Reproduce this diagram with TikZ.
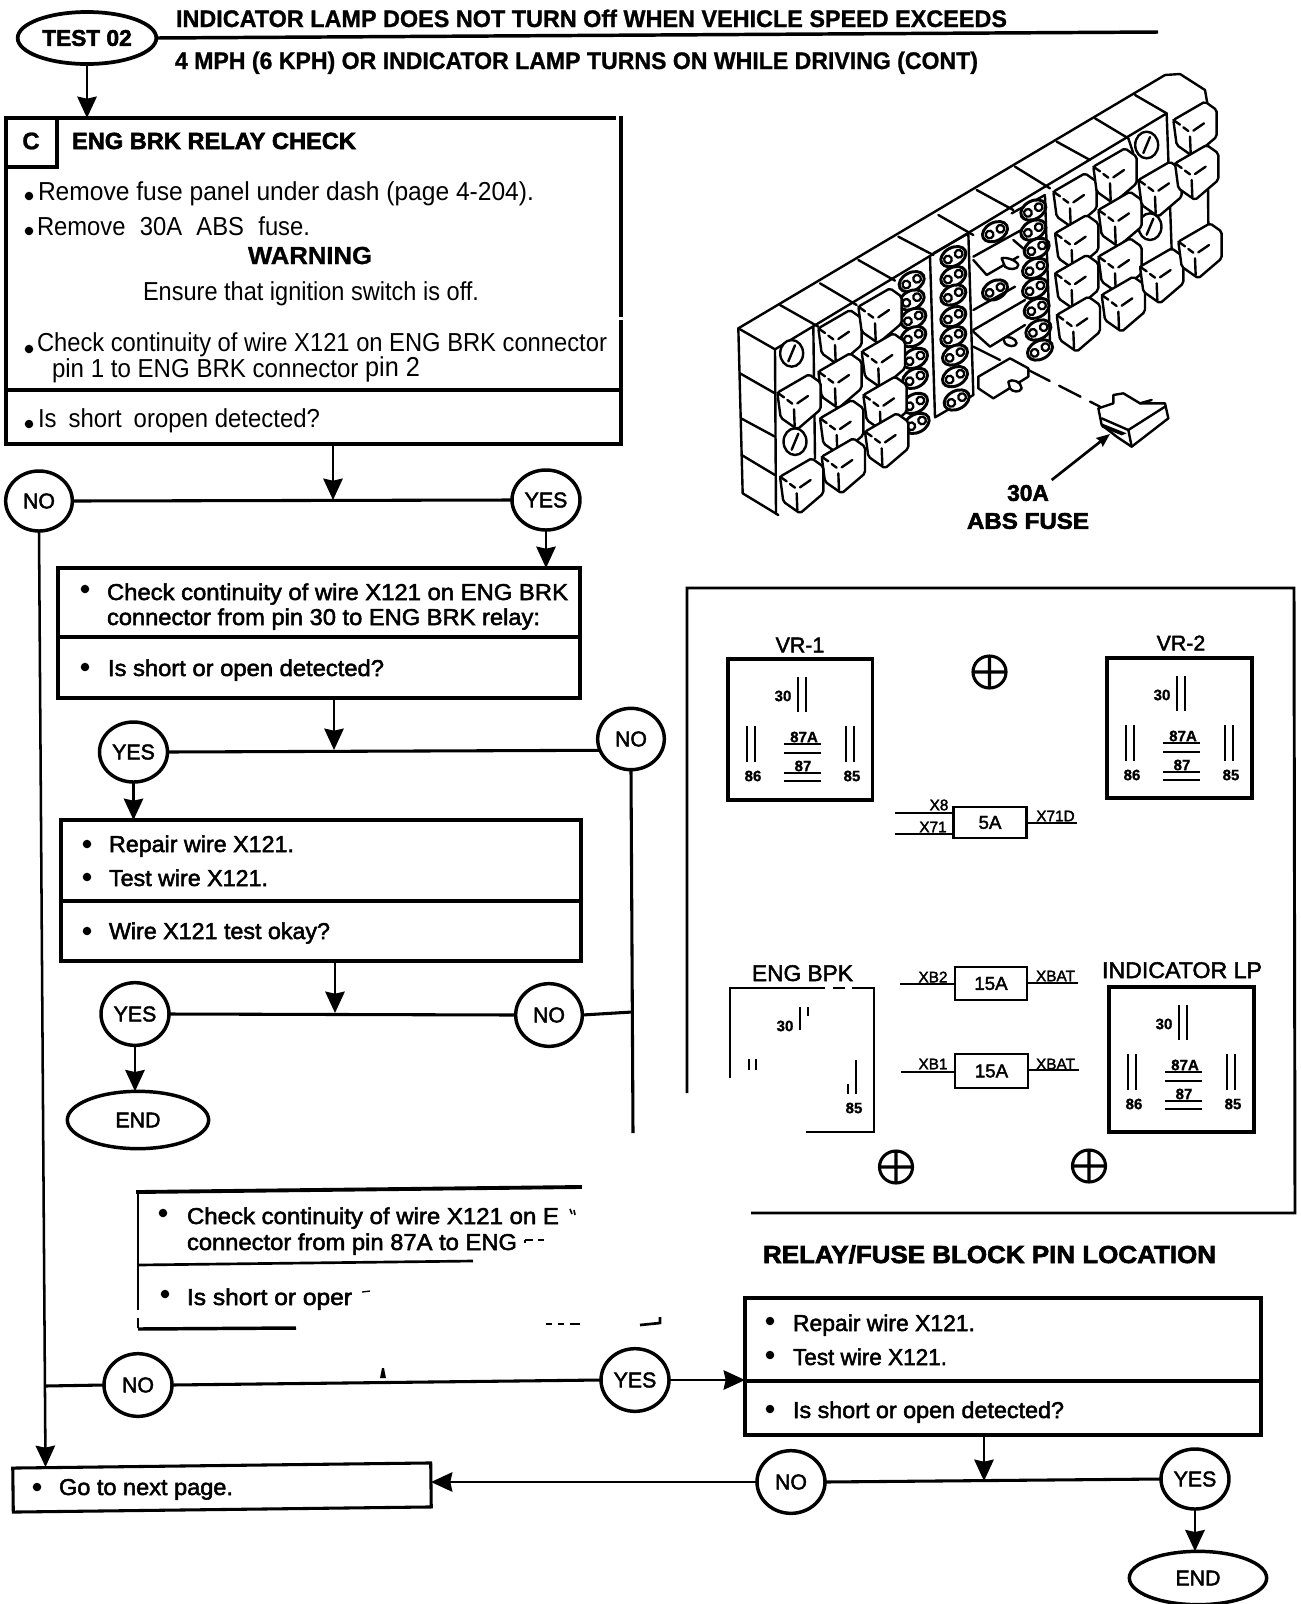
\documentclass[tikz,border=0pt]{standalone}
\usepackage{fontspec}
\setmainfont{Liberation Sans}
\usetikzlibrary{arrows.meta,shapes.geometric}
\newdimen\pxu \pxu=0.75pt
\newfontfamily\hvy[FakeBold=2.2]{Liberation Sans}
\newfontfamily\hvb[FakeBold=2.4]{Liberation Sans Bold}
\newfontfamily\bld[FakeBold=1]{Liberation Sans Bold}
\newcommand{\fA}{\hvy\fontsize{17.2}{20}\selectfont}
\newcommand{\fN}{\fontsize{19.5}{24}\selectfont}
\newcommand{\fT}{\bld\fontsize{18.5}{22}\selectfont}
\newcommand{\fH}{\hvb\fontsize{17.5}{21}\selectfont}
\newcommand{\fD}{\hvy\fontsize{16}{19}\selectfont}
\newcommand{\fP}{\bld\fontsize{11.3}{13}\selectfont}
\newcommand{\fW}{\hvy\fontsize{11.5}{13}\selectfont}
\newcommand{\fF}{\hvy\fontsize{14}{16}\selectfont}
% text fitted to a measured width: name, x, baseline, width, font, text
\newcommand{\tl}[6]{\node[anchor=base west,inner sep=0pt,outer sep=0pt] (#1) at (#2,#3) {\resizebox{#4\pxu}{\height}{#5#6}};}
\newcommand{\rbox}[6][box]{\node[#1,minimum width={(#4-#2)*0.75pt},minimum height={(#5-#3)*0.75pt}] (#6) at ({(#2+#4)/2},{(#3+#5)/2}) {};}
\newcommand{\dotb}[2]{\fill (#1,#2) circle (3.2pt);}
\newcommand{\relay}[5]{% name x y w h
\rbox[box]{#2}{#3}{#2+#4}{#3+#5}{#1}
\begin{scope}[shift={(#2,#3)}]
\node[pinlbl] (#1p30) at (55,37) {30};
\draw[pinline] (70,18)--(70,53) (78,18)--(78,53) (19,67)--(19,103) (27,67)--(27,103) (118,67)--(118,103) (126,67)--(126,103);
\node[pinlbl] (#1p86) at (25,117) {86};
\node[pinlbl] (#1p85) at (124,117) {85};
\node[pinlbl] (#1pa) at (76,78) {87A};
\node[pinlbl] (#1pb) at (75,107) {87};
\draw[pinline] (56,85)--(93,85) (56,94)--(93,94) (56,114)--(93,114) (56,122)--(93,122);
\end{scope}}
\newcommand{\screwmark}[2]{\draw[screw] (#1,#2) ellipse [x radius=12.4pt,y radius=12pt] (#1-16,#2)--(#1+16,#2) (#1,#2-16)--(#1,#2+16);}
\newcommand{\cubeat}[2]{\begin{scope}[shift={(#1,#2)}]
\draw[part,fill=white,rounded corners=1.5pt] (0,0)--(95,-55)--(130,-30)--(130,50)--(60,110)--(10,75)--cycle;
\draw[part] (0,0)--(20,14) (30,22)--(45,33) (60,32)--(92,10) (50,50)--(52,100);
\end{scope}}
\newcommand{\holeat}[2]{\begin{scope}[shift={(#1,#2)},rotate=28]
\draw[line width=2.2pt,fill=white] (0,0) ellipse [x radius=10pt,y radius=6.8pt];
\draw[line width=1.7pt,fill=white] (-4.6pt,0) circle (2.9pt) (4.6pt,0) circle (2.9pt);
\end{scope}}
\newcommand{\dialat}[2]{\draw[part,fill=white] (#1,#2) ellipse [x radius=8.6pt,y radius=10pt];
\draw[part] (#1-10,#2+24)--(#1+10,#2-24);}
\tikzset{
 box/.style={draw,line width=2.3pt,inner sep=0pt,outer sep=0pt,rectangle,fill=white},
 ghost/.style={inner sep=0pt,outer sep=0pt,rectangle},
 dec/.style={draw,ellipse,line width=2.6pt,inner sep=0pt,outer sep=0pt,fill=white,font=\fD},
 conn/.style={line width=2.3pt},
 arr/.style={line width=2.1pt,-{Stealth[length=16pt,width=14.5pt,inset=1.5pt]}},
 edge3/.style={line width=2.9pt,line cap=rect},
 pinlbl/.style={inner sep=0pt,font=\fP},
 pinline/.style={line width=1.9pt},
 screw/.style={line width=2.3pt},
 part/.style={line width=1.8pt,line join=round,line cap=round},
 wire/.style={line width=2.2pt},
 wlbl/.style={inner sep=0pt,font=\fW}
}
\begin{document}
\begin{tikzpicture}[x=0.75pt,y=-0.75pt]
\useasboundingbox (0,0) rectangle (1301,1604);
\fill[white] (0,0) rectangle (1301,1604);

% header
\node[dec,minimum width=104pt,minimum height=39pt,line width=2.8pt,font=\hvb\fontsize{17}{20}\selectfont] (test) at (87,38) {TEST 02};
\coordinate (ruleend) at (1158,32);
\draw[line width=2.6pt] (test.east)--(ruleend);
\tl{t1}{176}{27}{831}{\bld\fontsize{18}{22}\selectfont}{INDICATOR LAMP DOES NOT TURN Off WHEN VEHICLE SPEED EXCEEDS}
\tl{t2}{175}{69}{803}{\bld\fontsize{18}{22}\selectfont}{4 MPH (6 KPH) OR INDICATOR LAMP TURNS ON WHILE DRIVING (CONT)}

% box C
\rbox[ghost]{6}{118}{621}{444}{boxC}
\draw[edge3] (6,118)--(614,118);
\draw[edge3] (621,118)--(621,315);
\draw[edge3] (621,322)--(621,444)--(6,444)--(6,118);
\draw[edge3] (6,390)--(621,390);
\draw[line width=2.4pt] (57,118)--(57,167)--(6,167);
\node[inner sep=0pt,font=\bld\fontsize{18}{20}\selectfont] (clab) at (31,141) {C};
\tl{c0}{72}{149}{284}{\fH}{ENG BRK RELAY CHECK}
\dotb{29}{196}
\tl{c1}{38}{200}{496}{\fN}{Remove fuse panel under dash (page 4-204).}
\dotb{29}{231}
\tl{c2}{37}{235}{273}{\fN}{Remove\hspace{0.6em}30A\hspace{0.6em}ABS\hspace{0.6em}fuse.}
\tl{c3}{248}{264}{124}{\fT}{WARNING}
\tl{c4}{143}{300}{336}{\fN}{Ensure that ignition switch is off.}
\dotb{29}{349}
\tl{c5}{37}{351}{570}{\fN}{Check continuity of wire X121 on ENG BRK connector}
\tl{c6}{52}{377}{368}{\fN}{pin 1 to ENG BRK connector \raisebox{0.5pt}{\fontsize{20.5}{24}\selectfont pin 2}}
\dotb{29}{424}
\tl{c7}{38}{427}{282}{\fN}{Is\hspace{0.5em}short\hspace{0.5em}oropen detected?}

\draw[arr] (test.south)--(test.south |- boxC.north);

% first decision
\node[dec,minimum width=50pt,minimum height=45pt] (no1) at (39,501) {NO};
\node[dec,minimum width=51pt,minimum height=45pt] (yes1) at (546,500) {YES};
\draw[conn] (no1.east)--(yes1.west);
\coordinate (j1) at (333,500);
\draw[arr] (boxC.south -| j1)--(j1);

% box 2
\rbox{58}{568}{580}{698}{box2}
\draw[conn] (58,637)--(580,637);
\draw[arr] (yes1.south)--(yes1.south |- box2.north);
\dotb{85}{589}
\tl{b1}{107}{600}{461}{\fA}{Check continuity of wire X121 on ENG BRK}
\tl{b2}{107}{625}{433}{\fA}{connector from pin 30 to ENG BRK relay:}
\dotb{85}{667}
\tl{b3}{108}{676}{276}{\fA}{Is short or open detected?}

% second decision
\node[dec,minimum width=51pt,minimum height=45pt] (yes2) at (133.5,752) {YES};
\node[dec,minimum width=50pt,minimum height=46pt] (no2) at (631,739) {NO};
\draw[conn] (yes2.east)--(no2.200);
\coordinate (j2) at (334,750);
\draw[arr] (box2.south -| j2)--(j2);

% box 3
\rbox{61}{820}{581}{961}{box3}
\draw[conn] (61,901)--(581,901);
\draw[arr] (yes2.south)--(yes2.south |- box3.north);
\dotb{87}{844}
\tl{d1}{109}{852}{185}{\fA}{Repair wire X121.}
\dotb{87}{877}
\tl{d2}{109}{886}{159}{\fA}{Test wire X121.}
\dotb{87}{931}
\tl{d3}{109}{939}{221}{\fA}{Wire X121 test okay?}

% third decision
\node[dec,minimum width=51pt,minimum height=47pt] (yes3) at (135,1014) {YES};
\node[dec,minimum width=50pt,minimum height=47pt] (no3) at (549,1015) {NO};
\draw[conn] (yes3.east)--(no3.west);
\coordinate (j3) at (335,1013);
\draw[arr] (box3.south -| j3)--(j3);
\node[dec,minimum width=106pt,minimum height=43pt] (end1) at (138,1120) {END};
\draw[arr] (yes3.south)--(yes3.south |- end1.north);
\coordinate (nobot) at (633,1133);
\draw[conn] (no2.south)--(nobot);
\coordinate (j4) at (632,1012);
\draw[conn] (no3.east)--(j4);

% box 4, broken by the copy
\rbox[ghost]{138}{1189}{660}{1328}{box4}
\draw[edge3] (138,1192)--(580,1187);
\draw[line width=1.8pt] (138,1192)--(138,1310) (138,1318)--(138,1328);
\draw[line width=2.6pt] (138,1329)--(296,1328);
\draw[line width=2pt] (138,1265)--(473,1261);
\draw[line width=2pt] (640,1325)--(660,1323) (660,1317)--(660,1324);
\draw[line width=1.2pt] (546,1324)--(552,1324) (558,1324)--(564,1324) (570,1324)--(580,1324);
\dotb{163}{1213}
\tl{e1}{187}{1224}{372}{\fA}{Check continuity of wire X121 on E}
\draw[line width=1.2pt] (570,1209)--(572,1214) (574,1210)--(575,1215);
\tl{e2}{187}{1250}{330}{\fA}{connector from pin 87A to ENG}
\draw[line width=1.2pt] (525,1240)--(533,1240) (525,1240)--(525,1243) (538,1240)--(544,1240);
\dotb{165}{1294}
\tl{e3}{187}{1305}{165}{\fA}{Is short or oper}
\draw[line width=1pt] (362,1292)--(370,1291);
\fill (380,1378)--(386,1378)--(384,1368)--(382,1368)--cycle;

% fourth decision
\node[dec,minimum width=51pt,minimum height=47pt] (no4) at (138,1385) {NO};
\node[dec,minimum width=51pt,minimum height=47pt] (yes4) at (635,1380) {YES};
\draw[conn] (no4.east)--(yes4.west);

% go to next page
\node[box,rotate=0.7,minimum width=313.5pt,minimum height=33pt] (go) at (222,1487.5) {};
\dotb{37}{1487}
\tl{g1}{59}{1495}{174}{\fA}{Go to next page.}
\coordinate (jl) at (45,1386);
\draw[conn] (no4.west)--(jl);
\draw[line width=1.9pt,-{Stealth[length=16pt,width=14.5pt,inset=1.5pt]}] (no1.south)--(45.5,1467);

% box 5
\rbox{745}{1298}{1261}{1435}{box5}
\draw[conn] (745,1381)--(1261,1381);
\draw[arr] (yes4.east)--(box5.west |- yes4.east);
\dotb{770}{1321}
\tl{f1}{793}{1331}{182}{\fA}{Repair wire X121.}
\dotb{770}{1355}
\tl{f2}{793}{1365}{154}{\fA}{Test wire X121.}
\dotb{770}{1409}
\tl{f3}{793}{1418}{271}{\fA}{Is short or open detected?}
\tl{relaytitle}{763}{1263}{453}{\hvb\fontsize{18.5}{22}\selectfont}{RELAY/FUSE BLOCK PIN LOCATION}

% fifth decision
\node[dec,minimum width=51pt,minimum height=47pt] (no5) at (791,1482) {NO};
\node[dec,minimum width=51pt,minimum height=45pt] (yes5) at (1195,1479) {YES};
\draw[conn] (no5.east)--(yes5.west);
\coordinate (j5) at (984,1481);
\draw[arr] (box5.south -| j5)--(j5);
\node[dec,minimum width=103pt,minimum height=40pt] (end2) at (1198,1578) {END};
\draw[arr] (yes5.south)--(yes5.south |- end2.north);
\draw[arr] (no5.west)--(go.east |- no5.west);

% relay panel
\draw[line width=2.2pt] (687,1093)--(687,588)--(1294,588)--(1295,1213)--(751,1213);
\relay{vr1}{728}{659}{144.5}{141}
\node[inner sep=0pt,font=\fD] (vr1l) at (800,645) {VR-1};
\relay{vr2}{1107}{658}{145}{140}
\node[inner sep=0pt,font=\fD] (vr2l) at (1181,643) {VR-2};
\relay{ind}{1109}{987}{145}{145}
\tl{indl}{1102}{978}{160}{\fontsize{17}{20}\selectfont\hvy}{INDICATOR LP}
\tl{engl}{752}{981}{101}{\fontsize{17}{20}\selectfont\hvy}{ENG BPK}
% ENG BRK relay, partly erased
\rbox[ghost]{730}{988}{874}{1132}{engr}
\draw[line width=2.1pt] (730,1078)--(730,988)--(825,988) (833,988)--(845,988) (852,988)--(874,988)--(874,1132)--(806,1132);
\node[pinlbl] (eng30) at (785,1026) {30};
\draw[pinline] (800,1007)--(800,1030) (808,1007)--(808,1016) (749,1059)--(749,1070) (756,1059)--(756,1070) (856,1060)--(856,1094) (848,1084)--(848,1094);
\node[pinlbl] (eng85) at (854,1108) {85};
\screwmark{989.5}{672}
\screwmark{896}{1167}
\screwmark{1089}{1166}
% fuses
\node[box,minimum width=55pt,minimum height=23pt,font=\fF,line width=1.9pt] (f5) at (990,822.5) {5A};
\coordinate (f5a) at (895,813); \coordinate (f5b) at (895,834); \coordinate (f5c) at (1077,823);
\draw[wire] (f5a)--(f5a -| f5.west) (f5b)--(f5b -| f5.west) (f5.east |- f5c)--(f5c);
\node[wlbl] (lx8) at (939,805) {X8};
\node[wlbl] (lx71) at (933,827) {X71};
\node[wlbl] (lx71d) at (1055.5,816) {X71D};
\node[box,minimum width=54pt,minimum height=25pt,font=\fF,line width=1.9pt] (f15a) at (991,983.5) {15A};
\coordinate (f15aa) at (900,984); \coordinate (f15ab) at (1078,983);
\draw[wire] (f15aa)--(f15aa -| f15a.west) (f15a.east |- f15ab)--(f15ab);
\node[wlbl] (lxb2) at (933,977) {XB2};
\node[wlbl] (lxbat1) at (1055.5,976) {XBAT};
\node[box,minimum width=55pt,minimum height=25.5pt,font=\fF,line width=1.9pt] (f15b) at (991.5,1071) {15A};
\coordinate (f15ba) at (901,1072); \coordinate (f15bb) at (1079,1070);
\draw[wire] (f15ba)--(f15ba -| f15b.west) (f15b.east |- f15bb)--(f15bb);
\node[wlbl] (lxb1) at (933,1064) {XB1};
\node[wlbl] (lxbat2) at (1055.5,1064) {XBAT};

% fuse block drawing (coordinates of a 3x enlargement)
\begin{scope}[shift={(700,60)},x=0.25pt,y=-0.25pt]
\draw[part] (1525,500)--(1522,130)--(1515,90)--(1440,42)--(1395,45)--(115,805)--(128,1300)--(235,1365);
\draw[part] (115,805)--(225,868)--(1400,160)--(1415,570);
\draw[part] (225,868)--(228,1362);
\draw[part] (120,940)--(225,1000) (123,1075)--(225,1130) (125,1185)--(225,1245);
\foreach \a/\b/\c/\d in {240/735/355/800, 360/670/470/735, 475/600/585/662, 595/530/700/585, 715/465/820/525, 830/390/940/450, 945/320/1050/385, 1070/245/1170/300, 1185/175/1285/235, 1305/105/1400/160}
 {\draw[part] (\a,\b)--(\c,\d);}
\draw[part] (340,800)--(345,1195);
\draw[part] (1285,235)--(1300,280);
\dialat{275}{880}
\dialat{285}{1145}
\dialat{1340}{255}
\dialat{1350}{500}
% panel columns
\foreach \x/\y in {635/665,635/720,640/775,640/830,645/895,645/955,645/1030,650/1090} {\holeat{\x}{\y}}
\draw[part] (690,590)--(705,1072)--(820,1005)--(805,520)--(700,580);
\foreach \x/\y in {760/590,760/650,760/705,760/770,760/830,765/885,765/950,770/1020} {\holeat{\x}{\y}}
\holeat{885}{515}
\holeat{885}{690}
\draw[part] (820,590)--(1000,490) (820,600)--(860,645)--(955,590) (820,750)--(945,680) (820,810)--(975,720) (820,815)--(870,860)--(975,795) (820,860)--(900,900);
\draw[part,fill=white] (905,595)..controls (915,590) and (950,600)..(955,615)..controls (955,630) and (925,630)..(915,620)--cycle;
\draw[part,fill=white] (910,835)..controls (920,825) and (950,835)..(950,850)..controls (945,862) and (925,860)..(915,850)--cycle;
\draw[part,fill=white] (835,950)--(930,895)--(985,925)--(985,950)--(880,1015)--(835,985)--cycle;
\draw[part,fill=white] (925,965)..controls (935,955) and (965,965)..(965,985)..controls (960,1000) and (935,995)..(930,985)--cycle;
\draw[part] (935,460)--(1035,405) (940,540)--(975,570);
\foreach \x/\y in {1000/450,1000/510,1010/565,1005/625,1005/685,1010/745,1015/810,1020/870} {\holeat{\x}{\y}}
\draw[part] (1035,410)--(1050,850);
\foreach \x/\y in {355/805,355/935,360/1075,365/1190,232/998,240/1250,475/740,485/875,490/1005,495/1115} {\cubeat{\x}{\y}}
\foreach \x/\y in {1060/395,1065/520,1065/640,1070/765,1180/320,1195/450,1195/590,1205/705,1315/360,1320/620,1420/180,1425/310,1435/545} {\cubeat{\x}{\y}}
% removed fuse
\draw[part,dash pattern=on 18pt off 8pt] (985,930)--(1200,1040);
\draw[part,fill=white] (1195,1045)--(1240,1030)--(1240,1005)--(1270,1000)--(1320,1030)--(1395,1030)--(1405,1075)--(1295,1160)--(1250,1130)--(1205,1095)--cycle;
\draw[part] (1205,1075)--(1285,1110)--(1395,1040) (1285,1110)--(1295,1160) (1320,1030)--(1355,1020);
\fill (1205,1090)--(1280,1120)--(1265,1126)--(1205,1102)--cycle;
\coordinate (fuseTip) at (1230,1122);
\coordinate (fuseTail) at (1055,1260);
\end{scope}
\node[inner sep=0pt,font=\hvb\fontsize{17}{20}\selectfont] (lab30) at (1028,493) {30A};
\node[inner sep=0pt] (labfuse) at (1028,521) {\resizebox{122\pxu}{\height}{\hvb\fontsize{17}{20}\selectfont ABS FUSE}};
\draw[line width=2pt,-{Stealth[length=10pt,width=8pt,inset=1pt]}] (fuseTail)--(fuseTip);
\end{tikzpicture}
\end{document}
